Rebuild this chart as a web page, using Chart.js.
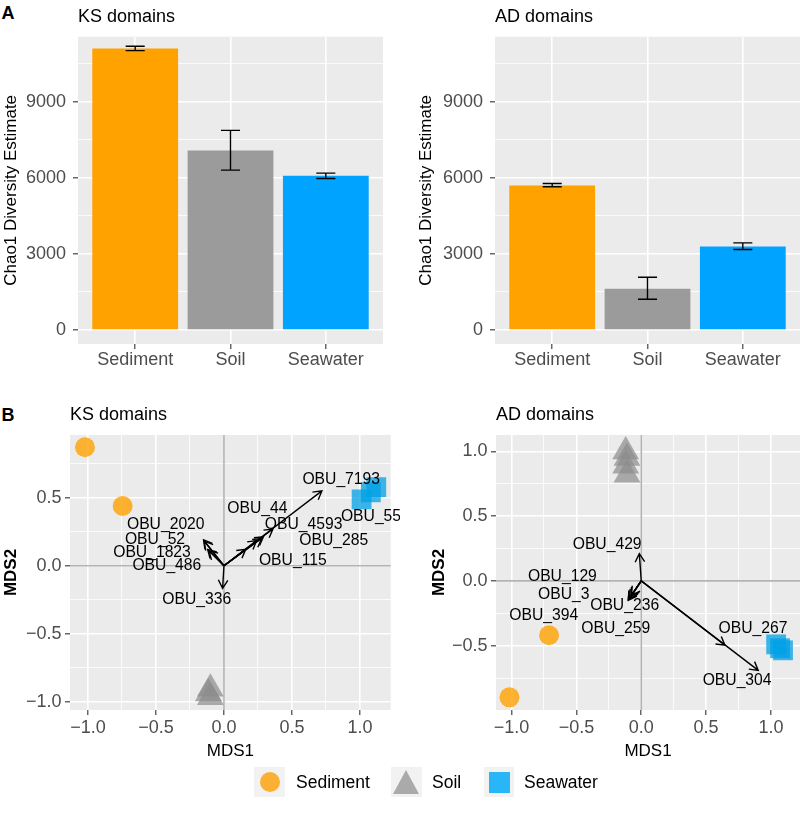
<!DOCTYPE html>
<html><head><meta charset="utf-8">
<script src="https://cdn.jsdelivr.net/npm/chart.js@4.4.1/dist/chart.umd.min.js"></script>
<style>
body{margin:0;background:#fff;width:800px;height:831px;position:relative;overflow:hidden;font-family:"Liberation Sans",Arial,sans-serif;}
canvas{position:absolute;}
.lab{position:absolute;font-weight:bold;font-size:18px;line-height:1;color:#000}
.key{position:absolute;top:767px;height:30px;background:#F2F2F2}
.ltxt{position:absolute;top:767px;font-size:17.5px;line-height:30px;color:#000;white-space:nowrap}
</style></head><body>
<div class="lab" style="left:1.5px;top:4px">A</div>
<div class="lab" style="left:1.5px;top:406px">B</div>
<canvas id="c1" width="400" height="380" style="left:0;top:0"></canvas>
<canvas id="c2" width="400" height="380" style="left:400px;top:0"></canvas>
<canvas id="c3" width="400" height="390" style="left:0;top:380px"></canvas>
<canvas id="c4" width="400" height="390" style="left:400px;top:380px"></canvas>
<div class="key" style="left:254px;width:31px"><div style="position:absolute;left:5.5px;top:5px;width:20px;height:20px;border-radius:50%;background:#FBB033"></div></div>
<div class="ltxt" style="left:296px">Sediment</div>
<div class="key" style="left:391px;width:31px"><div style="position:absolute;left:2px;top:3px;width:0;height:0;border-left:13.5px solid transparent;border-right:13.5px solid transparent;border-bottom:24px solid #AAAAAA"></div></div>
<div class="ltxt" style="left:432px">Soil</div>
<div class="key" style="left:484px;width:30px"><div style="position:absolute;left:4.5px;top:4.5px;width:21px;height:21px;background:#29B6F6"></div></div>
<div class="ltxt" style="left:524px">Seawater</div>
<script>
// ---------- data ----------
const categories = ["Sediment", "Soil", "Seawater"];
const ksChao1 = [11092, 7079, 6079];
const ksChao1Low = [11013, 6303, 5974];
const ksChao1High = [11184, 7868, 6184];
const adChao1 = [5697, 1631, 3289];
const adChao1Low = [5645, 1211, 3171];
const adChao1High = [5776, 2079, 3434];
const chaoMajorTicks = [0, 3000, 6000, 9000];
const chaoMinorTicks = [1500, 4500, 7500, 10500];

const mdsMajorTicks = [-1, -0.5, 0, 0.5, 1];
const mdsMinorTicks = [-0.75, -0.25, 0.25, 0.75];

const ksSediment = [[-1.022, 0.871], [-0.745, 0.439]];
const ksSoil = [[-0.10, -0.905], [-0.115, -0.94], [-0.10, -0.967]];
const ksSeawater = [[1.012, 0.487], [1.08, 0.54], [1.12, 0.578]];
const ksVectorNames = ["OBU_7193", "OBU_44", "OBU_4593", "OBU_55", "OBU_285", "OBU_115", "OBU_2020", "OBU_52", "OBU_1823", "OBU_486", "OBU_336"];
const ksVectorEnds = [[0.72, 0.55], [0.36, 0.27], [0.29, 0.213], [0.277, 0.2], [0.24, 0.184], [0.16, 0.12], [-0.15, 0.19], [-0.145, 0.18], [-0.12, 0.12], [-0.11, 0.11], [-0.01, -0.166]];
const ksLabelPos = [[0.862, 0.63], [0.246, 0.422], [0.586, 0.299], [1.081, 0.36], [0.807, 0.182], [0.506, 0.037], [-0.428, 0.299], [-0.507, 0.194], [-0.529, 0.096], [-0.42, -0.002], [-0.2, -0.252]];

const adSediment = [[-0.711, -0.42], [-1.016, -0.899]];
const adSoil = [[-0.12, 1.0], [-0.11, 0.95], [-0.12, 0.89], [-0.11, 0.82]];
const adSeawater = [[1.04, -0.49], [1.07, -0.52], [1.093, -0.536]];
const adVectorNames = ["OBU_429", "OBU_129", "OBU_3", "OBU_236", "OBU_394", "OBU_259", "OBU_267", "OBU_304"];
const adVectorEnds = [[-0.015, 0.21], [-0.1, -0.15], [-0.09, -0.135], [-0.08, -0.12], [-0.1, -0.145], [-0.075, -0.11], [0.645, -0.497], [0.902, -0.691]];
const adLabelPos = [[-0.263, 0.281], [-0.608, 0.031], [-0.597, -0.105], [-0.128, -0.188], [-0.752, -0.27], [-0.197, -0.368], [0.861, -0.368], [0.739, -0.768]];

// ---------- styles ----------
const FONT = '"Liberation Sans", Arial, sans-serif';
const TICK = '#4D4D4D';
const TICKSIZE = 18;
const barColors = ['#FFA200', '#9B9B9B', '#00A3FF'];

const panelBg = {
  id: 'panelBg',
  beforeDraw(chart) {
    const {ctx, chartArea: a} = chart;
    ctx.save(); ctx.fillStyle = '#EBEBEB';
    ctx.fillRect(a.left, a.top, a.right - a.left, a.bottom - a.top);
    ctx.restore();
  }
};

const errorBars = {
  id: 'errorBars',
  afterDatasetsDraw(chart, args, o) {
    const {ctx, scales: {x, y}} = chart;
    ctx.save(); ctx.strokeStyle = '#000'; ctx.lineWidth = 1.4;
    o.low.forEach((lo, i) => {
      const p = i + 1;
      const xc = x.getPixelForValue(p), xl = x.getPixelForValue(p - o.halfWidth), xr = x.getPixelForValue(p + o.halfWidth);
      const yl = y.getPixelForValue(lo), yh = y.getPixelForValue(o.high[i]);
      ctx.beginPath();
      ctx.moveTo(xc, yl); ctx.lineTo(xc, yh);
      ctx.moveTo(xl, yl); ctx.lineTo(xr, yl);
      ctx.moveTo(xl, yh); ctx.lineTo(xr, yh);
      ctx.stroke();
    });
    ctx.restore();
  }
};

function arrow(ctx, x0, y0, x1, y1) {
  const ang = Math.atan2(y1 - y0, x1 - x0), L = 9.5, a = Math.PI / 6;
  ctx.beginPath();
  ctx.moveTo(x0, y0); ctx.lineTo(x1, y1);
  ctx.moveTo(x1 - L * Math.cos(ang - a), y1 - L * Math.sin(ang - a));
  ctx.lineTo(x1, y1);
  ctx.lineTo(x1 - L * Math.cos(ang + a), y1 - L * Math.sin(ang + a));
  ctx.stroke();
}

const biplot = {
  id: 'biplot',
  beforeDatasetsDraw(chart) {
    const {ctx, chartArea: a, scales: {x, y}} = chart;
    ctx.save(); ctx.strokeStyle = '#B3B3B3'; ctx.lineWidth = 1.6;
    const x0 = x.getPixelForValue(0), y0 = y.getPixelForValue(0);
    ctx.beginPath();
    ctx.moveTo(x0, a.top); ctx.lineTo(x0, a.bottom);
    ctx.moveTo(a.left, y0); ctx.lineTo(a.right, y0);
    ctx.stroke();
    ctx.restore();
  },
  afterDatasetsDraw(chart, args, o) {
    const {ctx, chartArea: a, scales: {x, y}} = chart;
    ctx.save();
    ctx.beginPath(); ctx.rect(a.left, a.top, a.right - a.left, a.bottom - a.top); ctx.clip();
    ctx.strokeStyle = '#000'; ctx.lineWidth = 1.4; ctx.lineJoin = 'miter';
    const ox = x.getPixelForValue(0), oy = y.getPixelForValue(0);
    o.ends.forEach(e => arrow(ctx, ox, oy, x.getPixelForValue(e[0]), y.getPixelForValue(e[1])));
    ctx.restore();
    ctx.save();
    ctx.fillStyle = '#000'; ctx.font = '15.7px ' + FONT;
    ctx.textAlign = 'center'; ctx.textBaseline = 'middle';
    o.names.forEach((n, i) => ctx.fillText(n, x.getPixelForValue(o.labels[i][0]), y.getPixelForValue(o.labels[i][1])));
    ctx.restore();
  }
};

const isMajor = (v, arr) => arr.some(m => Math.abs(m - v) < 1e-9);

function barChart(id, title, values, low, high, L) {
  return new Chart(document.getElementById(id), {
    type: 'bar',
    data: {datasets: [{
      data: values.map((v, i) => ({x: i + 1, y: v})),
      backgroundColor: barColors, borderWidth: 0, barPercentage: 1, categoryPercentage: 0.9
    }]},
    plugins: [panelBg, errorBars],
    options: {
      responsive: false, animation: false, events: [],
      layout: {autoPadding: false, padding: {left: 0, right: L.right, top: 0, bottom: 0}},
      plugins: {
        legend: {display: false}, tooltip: {enabled: false},
        title: {display: true, text: title, align: 'start', fullSize: false, color: '#000',
          font: {family: FONT, size: 18, weight: 'normal', lineHeight: 1.2}, padding: {top: 6.7, bottom: 8.4}},
        errorBars: {low: low, high: high, halfWidth: 0.1}
      },
      scales: {
        x: {
          type: 'linear', min: 0.4, max: 3.6, offset: false, bounds: 'data',
          afterBuildTicks: s => { s.ticks = categories.map((c, i) => ({value: i + 1})); },
          afterFit: s => { s.height = L.xh; },
          ticks: {callback: v => categories[Math.round(v) - 1], color: TICK, font: {family: FONT, size: TICKSIZE}, padding: 0, autoSkip: false, maxRotation: 0, minRotation: 0},
          grid: {color: '#FFFFFF', lineWidth: 1.6, tickLength: 5, tickColor: '#333333', tickWidth: 1.1, offset: false},
          border: {display: false}
        },
        y: {
          type: 'linear', min: -551, max: 11560, bounds: 'data',
          afterBuildTicks: s => { s.ticks = chaoMajorTicks.concat(chaoMinorTicks).sort((a, b) => a - b).map(v => ({value: v})); },
          afterFit: s => { s.width = L.yw; },
          ticks: {callback: v => isMajor(v, chaoMajorTicks) ? String(v) : '', color: TICK, font: {family: FONT, size: TICKSIZE}, padding: 7, autoSkip: false},
          grid: {
            color: '#FFFFFF',
            lineWidth: c => (c.tick && isMajor(c.tick.value, chaoMajorTicks)) ? 1.6 : 0.8,
            tickColor: c => (c.tick && isMajor(c.tick.value, chaoMajorTicks)) ? '#333333' : 'rgba(0,0,0,0)',
            tickLength: 5, tickWidth: 1.1
          },
          title: {display: true, text: 'Chao1 Diversity Estimate', color: '#000', font: {family: FONT, size: 17, weight: 'normal', lineHeight: 1.2}, padding: {top: L.tpad, bottom: 0}},
          border: {display: false}
        }
      }
    }
  });
}

function mdsAxis(min, max, size, isX, L) {
  const fmt = v => v.toFixed(1).replace('-', '\u2212');
  const all = mdsMajorTicks.concat(mdsMinorTicks).filter(v => v >= min && v <= max).sort((a, b) => a - b);
  const ax = {
    type: 'linear', min: min, max: max, bounds: 'data',
    afterBuildTicks: s => { s.ticks = all.map(v => ({value: v})); },
    ticks: {callback: v => isMajor(v, mdsMajorTicks) ? fmt(v) : '', color: TICK, font: {family: FONT, size: TICKSIZE}, padding: isX ? 2 : 3.5, autoSkip: false, maxRotation: 0, minRotation: 0},
    grid: {
      color: '#FFFFFF',
      lineWidth: c => (c.tick && isMajor(c.tick.value, mdsMajorTicks)) ? 1.6 : 0.8,
      tickColor: c => (c.tick && isMajor(c.tick.value, mdsMajorTicks)) ? '#333333' : 'rgba(0,0,0,0)',
      tickLength: 5, tickWidth: 1.1
    },
    border: {display: false}
  };
  if (isX) {
    ax.afterFit = s => { s.height = size; };
    ax.title = {display: true, text: 'MDS1', color: '#000', font: {family: FONT, size: 17, weight: 'normal', lineHeight: 1.2}, padding: {top: 0, bottom: 8}};
  } else {
    ax.afterFit = s => { s.width = size; };
    ax.title = {display: true, text: 'MDS2', color: '#000', font: {family: FONT, size: 17, weight: 'bold', lineHeight: 1.2}, padding: {top: L.tpad, bottom: 0}};
  }
  return ax;
}

function nmdsChart(id, title, sed, soil, sea, names, ends, labels, R, L) {
  const pts = arr => arr.map(p => ({x: p[0], y: p[1]}));
  return new Chart(document.getElementById(id), {
    type: 'scatter',
    data: {datasets: [
      {label: 'Seawater', data: pts(sea), pointStyle: 'rect', pointRadius: 14, backgroundColor: 'rgba(0,160,230,0.75)', pointBackgroundColor: 'rgba(0,160,230,0.75)', pointBorderWidth: 0, pointBorderColor: 'rgba(0,0,0,0)'},
      {label: 'Soil', data: pts(soil), pointStyle: 'triangle', pointRadius: 15.5, backgroundColor: 'rgba(140,140,140,0.7)', pointBackgroundColor: 'rgba(140,140,140,0.7)', pointBorderWidth: 0, pointBorderColor: 'rgba(0,0,0,0)'},
      {label: 'Sediment', data: pts(sed), pointStyle: 'circle', pointRadius: 10, backgroundColor: 'rgba(255,163,0,0.8)', pointBackgroundColor: 'rgba(255,163,0,0.8)', pointBorderWidth: 0, pointBorderColor: 'rgba(0,0,0,0)'}
    ]},
    plugins: [panelBg, biplot],
    options: {
      responsive: false, animation: false, events: [],
      layout: {autoPadding: false, padding: {left: 0, right: L.right, top: 0, bottom: 0}},
      plugins: {
        legend: {display: false}, tooltip: {enabled: false},
        title: {display: true, text: title, align: 'start', fullSize: false, color: '#000',
          font: {family: FONT, size: 18, weight: 'normal', lineHeight: 1.2}, padding: {top: 24.2, bottom: 9.2}},
        biplot: {names: names, ends: ends, labels: labels}
      },
      scales: {
        x: mdsAxis(R.x0, R.x1, 60, true, L),
        y: mdsAxis(R.y0, R.y1, L.yw, false, L)
      }
    }
  });
}

barChart('c1', 'KS domains', ksChao1, ksChao1Low, ksChao1High, {right: 17, xh: 36, yw: 78, tpad: 1.3});
barChart('c2', 'AD domains', adChao1, adChao1Low, adChao1High, {right: 0, xh: 36, yw: 95, tpad: 16.5});
nmdsChart('c3', 'KS domains', ksSediment, ksSoil, ksSeawater, ksVectorNames, ksVectorEnds, ksLabelPos,
  {x0: -1.132, x1: 1.226, y0: -1.061, y1: 0.961}, {right: 9.3, yw: 70, tpad: 1.5});
nmdsChart('c4', 'AD domains', adSediment, adSoil, adSeawater, adVectorNames, adVectorEnds, adLabelPos,
  {x0: -1.12, x1: 1.224, y0: -0.997, y1: 1.127}, {right: 0, yw: 96, tpad: 29.1});
</script>
</body></html>
